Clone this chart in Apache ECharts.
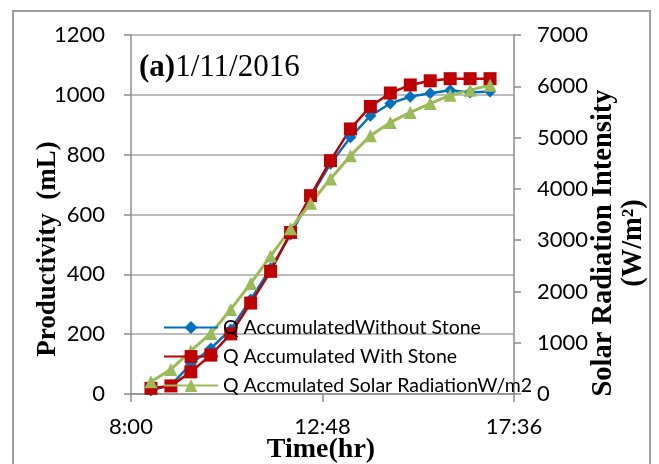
<!DOCTYPE html>
<html>
<head>
<meta charset="utf-8">
<script src="https://cdn.jsdelivr.net/npm/echarts@6/dist/echarts.min.js"></script>
<style>
  html, body { margin: 0; padding: 0; background: #ffffff; }
  #chart { width: 659px; height: 464px; }
</style>
</head>
<body>
<div id="chart"></div>
<script>
// Sampling times (every 30 minutes)
const times = ['8:30', '9:00', '9:30', '10:00', '10:30', '11:00', '11:30', '12:00', '12:30',
               '13:00', '13:30', '14:00', '14:30', '15:00', '15:30', '16:00', '16:30', '17:00'];
// Accumulated productivity (mL)
const withoutStone = [12, 30, 100, 152, 216, 316, 420, 533, 658, 770, 858, 930, 971, 994, 1005, 1015, 1008, 1011];
const withStone = [19, 27, 74, 130, 201, 304, 410, 540, 663, 780, 886, 961, 1006, 1033, 1047, 1054, 1054, 1054];
// Accumulated solar radiation (W/m2)
const solar = [240, 480, 840, 1180, 1650, 2155, 2690, 3220, 3720, 4194, 4647, 5036, 5295, 5490, 5664, 5827, 5925, 6022];

const seriesNames = ['Q AccumulatedWithout Stone', 'Q Accumulated With Stone', 'Q Accmulated Solar RadiationW/m2'];

// Time axis runs from 8:00 to 17:36 with a step of 4:48; values are minutes after 8:00
const axisStart = 8 * 60;
const axisSpan = 576;
const axisStep = 288;

function toMinutes(t) {
  const p = t.split(':');
  return parseInt(p[0], 10) * 60 + parseInt(p[1], 10) - axisStart;
}
function fmtTime(v) {
  const m = v + axisStart;
  const h = Math.floor(m / 60);
  const mm = m % 60;
  return h + ':' + (mm < 10 ? '0' + mm : mm);
}
function plain(v) {
  return String(v);
}
function pairs(vals) {
  return times.map((t, i) => [toMinutes(t), vals[i]]);
}

const tickFont = { fontFamily: 'Lato', fontSize: 22, color: '#000000' };
const axisGray = '#8c8c8c';

const chart = echarts.init(document.getElementById('chart'), null, { renderer: 'canvas' });
chart.setOption({
  backgroundColor: '#ffffff',
  animation: false,
  title: {
    text: '{b|(a)}{n|1/11/2016}',
    left: 134,
    top: 47,
    textStyle: {
      fontWeight: 'normal',
      rich: {
        b: { fontFamily: 'Liberation Serif', fontWeight: 'bold', fontSize: 31, color: '#000', lineHeight: 31 },
        n: { fontFamily: 'Liberation Serif', fontWeight: 'normal', fontSize: 31, color: '#000', lineHeight: 31 }
      }
    }
  },
  grid: { left: 131, right: 145, top: 35, bottom: 70 },
  legend: {
    orient: 'vertical',
    left: 158,
    top: 312,
    itemWidth: 54,
    itemHeight: 16,
    itemGap: 8,
    textStyle: { fontFamily: 'Lato', fontSize: 19.5, color: '#000000', lineHeight: 21 },
    data: seriesNames
  },
  xAxis: {
    type: 'value',
    min: 0,
    max: axisSpan,
    interval: axisStep,
    axisLine: { show: true, onZero: false, lineStyle: { color: axisGray, width: 1.5 } },
    axisTick: { show: true, length: 8, lineStyle: { color: axisGray, width: 1.5 } },
    axisLabel: Object.assign({ margin: 22, formatter: fmtTime }, tickFont),
    splitLine: { show: false }
  },
  yAxis: [
    {
      type: 'value',
      min: 0,
      max: 1200,
      interval: 200,
      axisLine: { show: true, lineStyle: { color: axisGray, width: 1.5 } },
      axisTick: { show: true, length: 7, lineStyle: { color: axisGray, width: 1.5 } },
      axisLabel: Object.assign({ margin: 26, formatter: plain }, tickFont),
      splitLine: { show: true, lineStyle: { color: '#a6a6a6', width: 1.5 } }
    },
    {
      type: 'value',
      min: 0,
      max: 7000,
      interval: 1000,
      position: 'right',
      axisLine: { show: true, lineStyle: { color: axisGray, width: 1.5 } },
      axisTick: { show: true, length: 7, lineStyle: { color: axisGray, width: 1.5 } },
      axisLabel: Object.assign({ margin: 23, formatter: plain }, tickFont),
      splitLine: { show: false }
    }
  ],
  series: [
    {
      name: seriesNames[0],
      type: 'line',
      yAxisIndex: 0,
      data: pairs(withoutStone),
      symbol: 'diamond',
      symbolSize: 12,
      itemStyle: { color: '#0070C0' },
      lineStyle: { color: '#0070C0', width: 2.5 }
    },
    {
      name: seriesNames[1],
      type: 'line',
      yAxisIndex: 0,
      data: pairs(withStone),
      symbol: 'rect',
      symbolSize: 13,
      itemStyle: { color: '#C00000' },
      lineStyle: { color: '#C00000', width: 2.5 }
    },
    {
      name: seriesNames[2],
      type: 'line',
      yAxisIndex: 1,
      data: pairs(solar),
      symbol: 'triangle',
      symbolSize: 13,
      itemStyle: { color: '#9BBB59' },
      lineStyle: { color: '#9BBB59', width: 3 }
    }
  ],
  graphic: [
    {
      type: 'rect',
      shape: { x: 13, y: 11, width: 637, height: 470 },
      style: { fill: 'none', stroke: '#a0a0a0', lineWidth: 2 },
      silent: true,
      z: -1
    },
    {
      type: 'text',
      x: 48,
      y: 249,
      rotation: Math.PI / 2,
      style: {
        text: 'Productivity  (mL)',
        font: 'bold 27px "Liberation Serif"',
        fill: '#000',
        textAlign: 'center',
        textVerticalAlign: 'middle'
      }
    },
    {
      type: 'text',
      x: 619,
      y: 243,
      rotation: Math.PI / 2,
      style: {
        text: 'Solar Radiation Intensity\n(W/m²)',
        font: 'bold 28.5px "Liberation Serif"',
        fill: '#000',
        lineHeight: 30,
        textAlign: 'center',
        textVerticalAlign: 'middle'
      }
    },
    {
      type: 'text',
      x: 321,
      y: 450,
      style: {
        text: 'Time(hr)',
        font: 'bold 28px "Liberation Serif"',
        fill: '#000',
        textAlign: 'center',
        textVerticalAlign: 'middle'
      }
    }
  ]
});
</script>
</body>
</html>
